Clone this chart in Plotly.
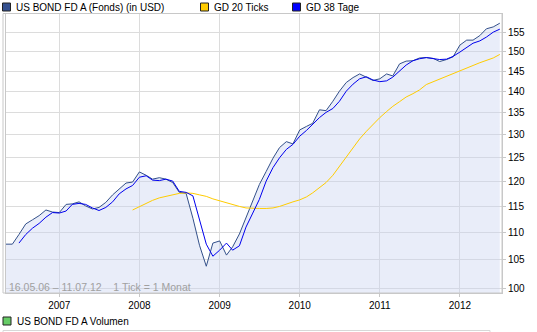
import math
import pandas as pd
import plotly.graph_objects as go

# ---------------- data ----------------
dates = pd.date_range("2006-05-01", "2012-07-01", freq="MS")  # 1 tick = 1 month

fonds = [
    107.8, 107.8, 109.6, 111.6, 112.4, 113.2, 114.3, 113.9, 113.8, 115.4,
    115.5, 115.9, 115.1, 114.5, 114.8, 115.8, 117.3, 118.5, 119.7, 119.9,
    122.0, 121.3, 120.5, 120.8, 120.5, 119.8, 117.8, 117.6, 112.7, 107.6,
    103.8, 108.0, 108.4, 105.8, 107.3, 109.7, 112.9, 116.4, 119.4, 122.1,
    124.9, 127.2, 128.5, 128.0, 131.1, 131.9, 132.6, 135.7, 135.5, 137.7,
    140.1, 142.2, 143.4, 144.3, 143.5, 142.7, 143.1, 144.3, 143.8, 146.8,
    147.5, 147.6, 148.3, 148.4, 148.2, 147.4, 147.9, 148.6, 151.6, 152.9,
    152.9, 154.1, 155.9, 156.4, 157.4,
]

gd38 = [None, None] + [
    108.0, 109.6, 110.8, 111.7, 112.9, 113.8, 113.7, 114.1, 115.4, 115.6,
    115.4, 114.7, 114.2, 114.8, 115.9, 117.5, 118.5, 119.2, 120.9, 121.2,
    120.3, 120.2, 120.5, 120.1, 118.0, 117.8, 117.1, 112.4, 107.8, 105.6,
    106.7, 108.0, 106.7, 107.5, 111.0, 113.7, 116.4, 120.1, 122.9, 125.0,
    126.8, 127.9, 129.7, 131.0, 132.4, 133.9, 135.1, 136.0, 137.7, 140.1,
    141.8, 143.1, 143.6, 142.8, 142.4, 142.6, 143.5, 145.1, 146.5, 147.6,
    148.1, 148.4, 148.2, 147.9, 148.0, 148.7, 149.8, 151.1, 152.1, 152.7,
    153.7, 155.0, 155.8,
]

gd20 = [None] * 19 + [
    114.3, 115.0, 115.6, 116.2, 116.7, 117.0, 117.4, 117.6, 117.7, 117.6,
    117.3, 117.0, 116.5, 116.1, 115.7, 115.3, 115.0, 114.7, 114.6, 114.6,
    114.6, 114.7, 115.0, 115.5, 115.9, 116.3, 116.9, 117.7, 118.8, 119.8,
    121.3, 123.2, 125.0, 127.2, 129.1, 130.8, 132.4, 133.9, 135.3, 136.5,
    137.6, 138.7, 139.5, 140.4, 141.7, 142.4, 143.1, 143.8, 144.4, 145.2,
    145.8, 146.4, 147.1, 147.6, 148.3, 149.2,
]

year_ticks = ["2007-01-01", "2008-01-01", "2009-01-01", "2010-01-01", "2011-01-01", "2012-01-01"]
year_labels = ["2007", "2008", "2009", "2010", "2011", "2012"]
price_ticks = [100, 105, 110, 115, 120, 125, 130, 135, 140, 145, 150, 155]

name_fonds = "US BOND FD A (Fonds) (in USD)"
name_gd20 = "GD 20 Ticks"
name_gd38 = "GD 38 Tage"
name_vol = "US BOND FD A Volumen"
footer = "16.05.06 – 11.07.12\u00a0\u00a0\u00a0 1 Tick = 1 Monat"

# ---------------- layout geometry ----------------
W, H = 537, 332
L, R, T, B = 6, 502, 14, 293
FONT = "Liberation Sans, Arial, sans-serif"
GRID = "#DCDCDC"
FRAME = "#C8C8C8"


def X(px):
    return (px - L) / (R - L)


def Y(py):
    return (B - py) / (B - T)


fig = go.Figure()
fig.add_trace(go.Scatter(x=dates, y=fonds, mode="lines", fill="tozeroy",
                         fillcolor="rgba(200,210,240,0.4)",
                         line=dict(color="#33508A", width=1), name=name_fonds))
fig.add_trace(go.Scatter(x=dates, y=gd20, mode="lines",
                         line=dict(color="#FFCC00", width=1), name=name_gd20))
fig.add_trace(go.Scatter(x=dates, y=gd38, mode="lines",
                         line=dict(color="#0000EE", width=1), name=name_gd38))

shapes = [
    # outer frame of the price panel
    dict(type="rect", xref="paper", yref="paper", x0=X(3), x1=X(R), y0=Y(B), y1=Y(13.5),
         line=dict(color=FRAME, width=1)),
    # volume panel frame (top part)
    dict(type="line", xref="paper", yref="paper", x0=X(3), x1=X(490), y0=Y(330.5), y1=Y(330.5),
         line=dict(color="#D8D8D8", width=1)),
    dict(type="line", xref="paper", yref="paper", x0=X(3), x1=X(3), y0=Y(330.5), y1=Y(334),
         line=dict(color="#D8D8D8", width=1)),
    dict(type="line", xref="paper", yref="paper", x0=X(490), x1=X(490), y0=Y(330.5), y1=Y(334),
         line=dict(color="#D8D8D8", width=1)),
]

annotations = []


def legend_item(x_sq, y_c, color, text):
    shapes.append(dict(type="rect", xref="paper", yref="paper",
                       x0=X(x_sq), x1=X(x_sq + 8), y0=Y(y_c + 4), y1=Y(y_c - 4),
                       fillcolor=color, line=dict(color="#222222", width=1)))
    annotations.append(dict(xref="paper", yref="paper", x=X(x_sq + 12.5), y=Y(y_c),
                            xanchor="left", yanchor="middle", text=text, showarrow=False,
                            borderpad=0, font=dict(family=FONT, size=10, color="#000000")))


legend_item(2.5, 7, "#34508F", name_fonds)
legend_item(200.5, 7, "#FFCC00", name_gd20)
legend_item(292.5, 7, "#0000FF", name_gd38)
legend_item(3, 321, "#66CC66", name_vol)

annotations.append(dict(xref="paper", yref="paper", x=X(7.5), y=Y(287), xanchor="left",
                        yanchor="middle", text=footer, showarrow=False, borderpad=0,
                        font=dict(family=FONT, size=10.5, color="#A0A0A0")))

fig.update_layout(
    width=W, height=H, autosize=False,
    margin=dict(l=L, r=W - R, t=T, b=H - B, pad=0),
    paper_bgcolor="white", plot_bgcolor="white",
    showlegend=False,
    shapes=shapes, annotations=annotations,
    xaxis=dict(type="date", range=["2006-05-03", "2012-07-11"],
               tickvals=year_ticks, ticktext=year_labels,
               showgrid=True, gridcolor=GRID, gridwidth=1,
               showline=True, linecolor=FRAME, mirror=True,
               ticks="outside", ticklen=3, tickcolor=FRAME,
               tickfont=dict(family=FONT, size=10, color="#000000"),
               zeroline=False, fixedrange=True),
    yaxis=dict(type="log", range=[math.log10(99.15), math.log10(159.9)],
               side="right", tickvals=price_ticks,
               ticktext=[str(v) for v in price_ticks],
               showgrid=True, gridcolor=GRID, gridwidth=1,
               showline=True, linecolor=FRAME, mirror=True,
               ticks="outside", ticklen=3, tickcolor=FRAME,
               tickfont=dict(family=FONT, size=10, color="#000000"),
               zeroline=False, fixedrange=True),
)

fig.write_html("out.html")
